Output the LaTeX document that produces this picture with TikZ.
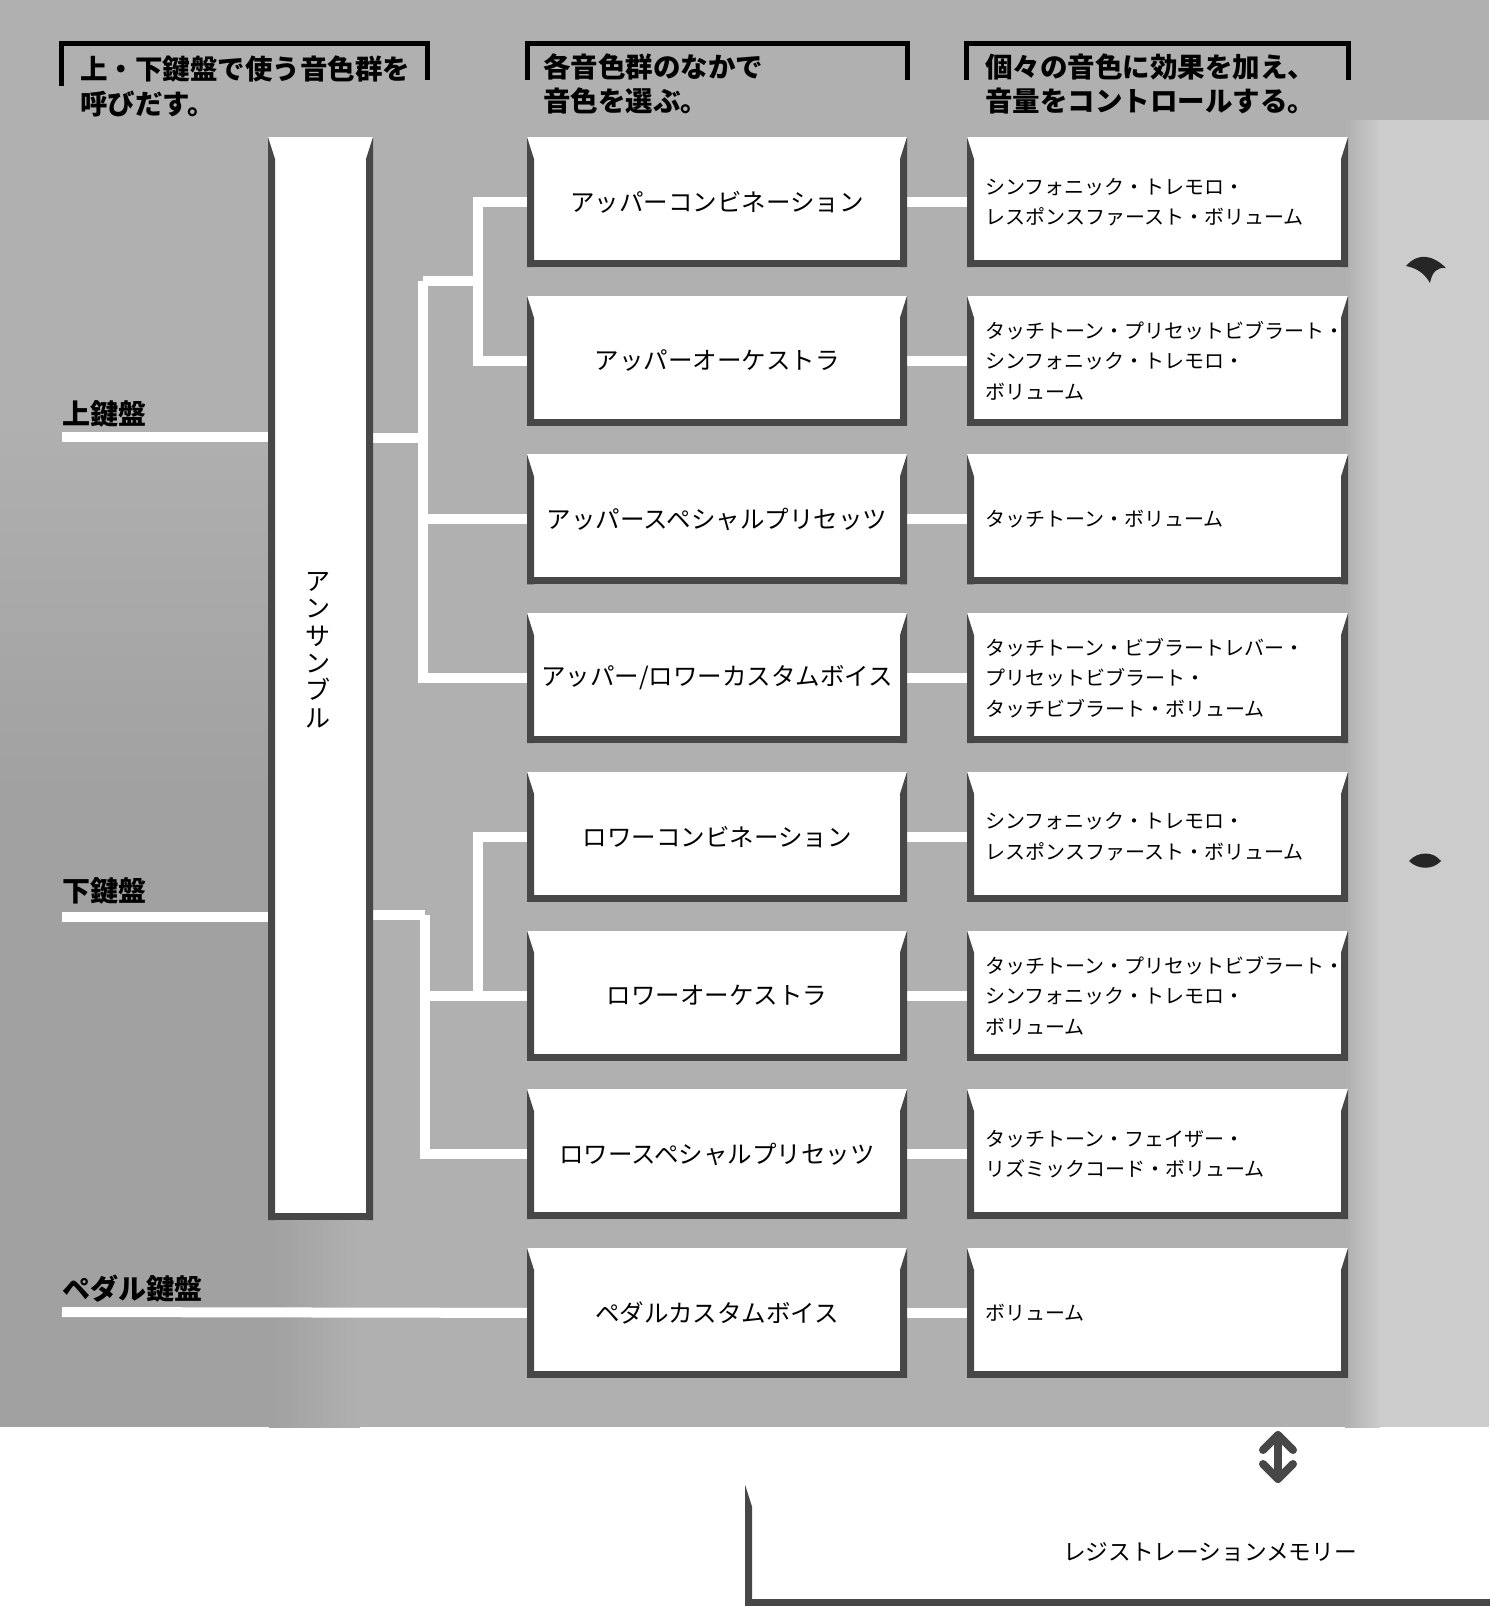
\documentclass[tikz,border=0pt]{standalone}
\usepackage{fontspec}
\newfontfamily\jp{Noto Sans CJK JP}
\usetikzlibrary{calc}
\pgfdeclarelayer{paper}
\pgfdeclarelayer{links}
\pgfsetlayers{paper,links,main}
\tikzset{
  tray/.style={fill=white, inner sep=0pt, path picture={
    \fill[black!72] (path picture bounding box.north west)
       -- ([xshift=7pt,yshift=-22pt]path picture bounding box.north west)
       -- ([xshift=7pt]path picture bounding box.south west)
       -- (path picture bounding box.south west) -- cycle;
    \fill[black!72] (path picture bounding box.north east)
       -- (path picture bounding box.south east)
       -- ([xshift=-7pt]path picture bounding box.south east)
       -- ([xshift=-7pt,yshift=-22pt]path picture bounding box.north east) -- cycle;
    \fill[black!72] ([yshift=7pt]path picture bounding box.south west)
       rectangle (path picture bounding box.south east);
  }},
  midbox/.style={tray, minimum width=380pt, minimum height=130pt,
    font=\jp\fontsize{24.5}{30}\selectfont},
  rightbox/.style={tray, minimum width=381pt, minimum height=130pt,
    text width=344pt, align=left, font=\jp\fontsize{20}{30.5}\selectfont},
  conn/.style={draw=white, line width=10pt},
  headline/.style={draw=black, line width=5pt},
  headtext/.style={anchor=west, inner sep=0pt,
    font=\jp\bfseries\fontsize{27.5}{34}\selectfont},
  keylabel/.style={anchor=west, inner sep=0pt,
    font=\jp\bfseries\fontsize{28}{34}\selectfont},
  arrowline/.style={draw=black!72, line width=8pt, line cap=round, line join=round},
}
\begin{document}
\begin{tikzpicture}[x=1pt, y=-1pt]
\useasboundingbox (0,0) rectangle (1489,1606);

% paper and halftone
\begin{pgfonlayer}{paper}
\fill[white] (0,0) rectangle (1489,1606);
\fill[black!31] (0,0) rectangle (1489,1427);
\shade[top color=black!31, bottom color=black!37] (0,420) rectangle (269,800);
\fill[black!37] (0,800) rectangle (269,1427);
\shade[left color=black!37, right color=black!31] (269,1215) rectangle (360,1427);
\shade[left color=black!31, right color=black!20] (1345,120) rectangle (1380,1427);
\fill[black!20] (1380,120) rectangle (1489,1427);
\end{pgfonlayer}

% headers
\draw[headline] (61,86) -- (61,43) -- (427,43) -- (427,80);
\draw[headline] (527,80) -- (527,43) -- (907,43) -- (907,80);
\draw[headline] (966,80) -- (966,43) -- (1348,43) -- (1348,80);
\node[headtext] (h1a) at (80,69) {上・下鍵盤で使う音色群を};
\node[headtext] (h1b) at (80,104) {呼びだす。};
\node[headtext] (h2a) at (543,67) {各音色群のなかで};
\node[headtext] (h2b) at (543,101) {音色を選ぶ。};
\node[headtext] (h3a) at (985,67) {個々の音色に効果を加え、};
\node[headtext] (h3b) at (985,101) {音量をコントロールする。};

% keyboard labels
\node[keylabel] (ku) at (62,414) {上鍵盤};
\node[keylabel] (kl) at (62,891) {下鍵盤};
\node[keylabel] (kp) at (62,1289) {ペダル鍵盤};

% ensemble bar
\node[tray, minimum width=105pt, minimum height=1083pt] (ens) at (320.5,678.5) {};
\node[inner sep=0pt, align=center, font=\jp\fontsize{25}{27.4}\selectfont] (enstext) at (318,650) {ア\\ン\\サ\\ン\\ブ\\ル};

% middle column
\node[midbox] (m1) at (717,202.0) {アッパーコンビネーション};
\node[midbox] (m2) at (717,360.7) {アッパーオーケストラ};
\node[midbox] (m3) at (717,519.4) {アッパースペシャルプリセッツ};
\node[midbox] (m4) at (717,678.1) {アッパー/ロワーカスタムボイス};
\node[midbox] (m5) at (717,836.8) {ロワーコンビネーション};
\node[midbox] (m6) at (717,995.5) {ロワーオーケストラ};
\node[midbox] (m7) at (717,1154.2) {ロワースペシャルプリセッツ};
\node[midbox] (m8) at (717,1312.9) {ペダルカスタムボイス};

% right column
\node[rightbox] (r1) at (1157.5,202.0) {シンフォニック・トレモロ・\\レスポンスファースト・ボリューム};
\node[rightbox] (r2) at (1157.5,360.7) {タッチトーン・プリセットビブラート・\\シンフォニック・トレモロ・\\ボリューム};
\node[rightbox] (r3) at (1157.5,519.4) {タッチトーン・ボリューム};
\node[rightbox] (r4) at (1157.5,678.1) {タッチトーン・ビブラートレバー・\\プリセットビブラート・\\タッチビブラート・ボリューム};
\node[rightbox] (r5) at (1157.5,836.8) {シンフォニック・トレモロ・\\レスポンスファースト・ボリューム};
\node[rightbox] (r6) at (1157.5,995.5) {タッチトーン・プリセットビブラート・\\シンフォニック・トレモロ・\\ボリューム};
\node[rightbox] (r7) at (1157.5,1154.2) {タッチトーン・フェイザー・\\リズミックコード・ボリューム};
\node[rightbox] (r8) at (1157.5,1312.9) {ボリューム};

% connector junctions
\coordinate (v1) at (478,281);
\coordinate (v2) at (423,281);
\coordinate (up) at (423,438);
\coordinate (v3) at (478,996);
\coordinate (v4) at (425,915);
\coordinate (lu) at (62,437);
\coordinate (ll) at (62,917);
\coordinate (lp) at (62,1312);

% connectors (white bands in the halftone)
\begin{pgfonlayer}{links}
\draw[conn] (m1.west) -| (v1) |- (m2.west);
\draw[conn] (v1) -- (v2);
\draw[conn] (v2) |- (m4.west);
\draw[conn] (v2 |- m3.west) -- (m3.west);
\draw[conn] (ens.east |- up) -- (up);
\draw[conn] (lu) -- (ens.west |- lu);
\draw[conn] (m5.west) -| (v3);
\draw[conn] (v4) |- (m7.west);
\draw[conn] (v4 |- m6.west) -- (m6.west);
\draw[conn] (ens.east |- v4) -- (v4);
\draw[conn] (ll) -- (ens.west |- ll);
\draw[conn] (lp) -- (m8.west);
\foreach \i in {1,...,8} { \draw[conn] (m\i.east) -- (r\i.west); }
\end{pgfonlayer}

% scan blobs on the right margin
\fill[black!85] (1406,266) .. controls (1418,252) and (1433,255) .. (1446,268)
  .. controls (1437,267) and (1432,272) .. (1430,283)
  .. controls (1425,274) and (1417,268) .. (1406,266) -- cycle;
\fill[black!85] (1409,861) .. controls (1418,851) and (1433,851) .. (1441,861)
  .. controls (1433,870) and (1418,870) .. (1409,861) -- cycle;

% registration memory box
\node[tray, minimum width=900pt, minimum height=121pt, anchor=north west] (reg) at (745,1485) {};
\node[inner sep=0pt, font=\jp\fontsize{22.7}{28}\selectfont] (regtext) at (1210,1552) {レジストレーションメモリー};

% double arrow
\coordinate (at) at (1278,1435);
\coordinate (ab) at (1278,1479);
\draw[arrowline] (at) -- (ab);
\draw[arrowline] ($(at)+(-15,15)$) -- (at) -- ($(at)+(15,15)$);
\draw[arrowline] ($(ab)+(-15,-15)$) -- (ab) -- ($(ab)+(15,-15)$);
\end{tikzpicture}
\end{document}
